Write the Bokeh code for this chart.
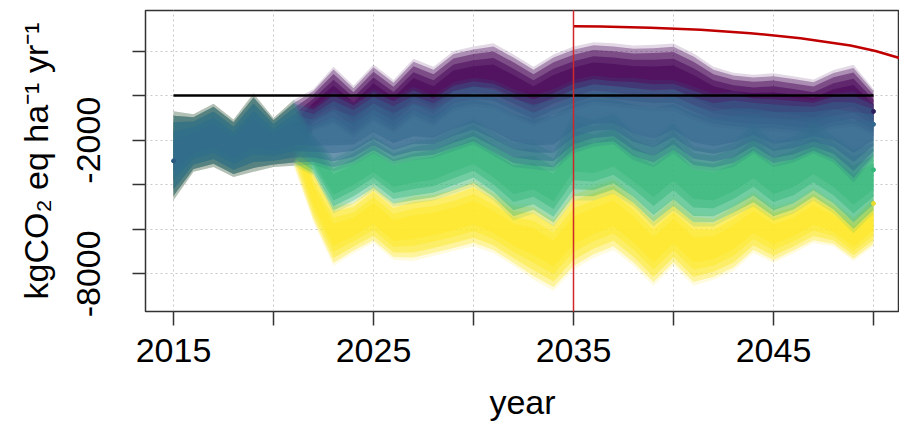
from bokeh.plotting import figure
from bokeh.models import FixedTicker, Range1d, Arrow
from bokeh.embed import file_html
from bokeh.resources import INLINE

# ---------------- data ----------------
hist_years = list(range(2015, 2022))
hist_hi = [-700, -840, -360, -1070, 90, -1000, -200]
hist_lo = [-4700, -3420, -3200, -3650, -3420, -3200, -3150]

proj_years = list(range(2022, 2051))
purple_hi = [300, 1300, 450, 1400, 700, 1650, 1300, 2000, 2200, 2350, 1850, 1300, 1850, 2200, 2400,
             2350, 2250, 2280, 2340, 1900, 1300, 1030, 940, 1000, 870, 720, 1150, 1380, 300]
purple_lo = [-1600, -1300, -1900, -1200, -1700, -1000, -1400, -700, -500, -600, -1000, -1400, -1000, -700, -400,
             -500, -600, -700, -700, -1100, -1400, -1500, -1600, -1600, -1700, -1800, -1500, -1400, -1800]
blue_hi = [-500, 200, -300, 300, -100, 400, 0, 600, 800, 700, 300, 0, 300, 700, 900,
           800, 800, 700, 700, 400, 100, 200, 0, 0, -100, -200, 100, 200, -300]
blue_lo = [-3100, -3400, -3100, -2600, -3100, -2900, -2800, -2500, -2200, -2700, -3200, -3300, -3400, -2600, -2300,
           -2200, -2900, -3200, -2600, -3300, -3400, -3200, -2600, -3200, -3000, -2600, -3000, -3900, -2800]
green_hi = [-1700, -2700, -2250, -1700, -2250, -1950, -1800, -1350, -900, -1500, -1950, -1950, -2400, -650, -900,
            -650, -1500, -1800, -1050, -2100, -2250, -1950, -1050, -1950, -1650, -1050, -1650, -2250, -1950]
green_lo = [-3600, -5290, -4840, -4270, -4980, -4840, -4710, -4400, -4090, -4710, -5600, -5290, -5870, -4710, -4710,
            -4400, -4980, -5870, -5160, -5870, -5870, -5420, -4980, -5600, -5290, -4710, -5290, -6180, -5290]
yellow_hi = [-3300, -4840, -4710, -3960, -4710, -4400, -4310, -4090, -3730, -4270, -4840, -4840, -5420, -4270, -3960,
             -3640, -4400, -5290, -4530, -5290, -5380, -4840, -4270, -4930, -4710, -4090, -4710, -5420, -4530]
yellow_lo = [-5700, -7640, -7070, -6620, -7380, -7420, -7200, -6980, -6760, -7070, -7640, -8270, -8760, -7820, -7290,
             -6930, -7640, -8530, -7640, -8530, -8270, -7870, -7070, -7510, -7070, -6620, -6760, -7420, -6760]

# end markers (small dots)
dot_years = [2015, 2050, 2050, 2050, 2050]
dot_vals = [-2930, -710, -1290, -3330, -4840]
dot_colors = ["#2a5a80", "#2b1f5c", "#31688E", "#35B779", "#e8dc30"]

x_ticks = [2015, 2020, 2025, 2030, 2035, 2040, 2045, 2050]
x_labels = {2015: "2015", 2020: "", 2025: "2025", 2030: "", 2035: "2035", 2040: "", 2045: "2045", 2050: ""}
y_ticks = [-8000, -6000, -4000, -2000, 0, 2000]
y_labels = {-8000: "-8000", -6000: "", -4000: "", -2000: "-2000", 0: "", 2000: ""}

# red annotation (hand-drawn overlay in the reference)
marker_year = 2035
red_curve_year = [2035.0, 2036.35, 2038.85, 2041.35, 2043.85, 2046.35, 2048.85, 2050.1, 2051.3]
red_curve_val = [3111, 3098, 3044, 2956, 2800, 2578, 2245, 2000, 1689]

# scenarios, in drawing order
scenarios = [
    ("#FDE725", yellow_lo, yellow_hi),
    ("#440154", purple_lo, purple_hi),
    ("#35B779", green_lo, green_hi),
    ("#31688E", blue_lo, blue_hi),
]
band_fracs = [1.0, 0.9, 0.75, 0.55, 0.35]
band_alphas = [0.15, 0.35, 0.45, 0.5, 0.5]

FONT = "Liberation Sans"

p = figure(width=899, height=423, output_backend="svg", toolbar_location=None,
           title_location=None,
           x_range=Range1d(2013.6, 2051.3), y_range=Range1d(-9690, 3820),
           min_border_left=145, min_border_right=0, min_border_top=10, min_border_bottom=109)
p.background_fill_color = "white"
p.border_fill_color = "white"
p.outline_line_color = "#333333"
p.outline_line_width = 1.5

years = hist_years + proj_years
for color, lo, hi in scenarios:
    full_lo = hist_lo + lo
    full_hi = hist_hi + hi
    mid = [(a + b) / 2 for a, b in zip(full_lo, full_hi)]
    for f, a in zip(band_fracs, band_alphas):
        y1 = [m - f * (m - l) for m, l in zip(mid, full_lo)]
        y2 = [m + f * (h - m) for m, h in zip(mid, full_hi)]
        p.varea(x=years, y1=y1, y2=y2, fill_color=color, fill_alpha=a)

p.scatter(dot_years, dot_vals, size=4, color=dot_colors)

# zero reference line
p.line([years[0], years[-1]], [0, 0], line_color="black", line_width=2.5)

# red overlay
p.line(red_curve_year, red_curve_val, line_color="#c00000", line_width=2.5)
p.add_layout(Arrow(end=None, x_start=marker_year, x_end=marker_year,
                   y_start=4300, y_end=-12400, line_color="#d02828", line_width=1.5))

# axes
for ax in (p.xaxis[0], p.yaxis[0]):
    ax.axis_line_color = None
    ax.major_tick_in = 0
    ax.major_tick_line_color = "#333333"
    ax.major_tick_line_width = 1.5
    ax.minor_tick_line_color = None
    ax.major_label_text_font = FONT
    ax.major_label_text_font_size = "34px"
    ax.major_label_text_color = "black"
    ax.axis_label_text_font = FONT
    ax.axis_label_text_font_size = "34px"
    ax.axis_label_text_font_style = "normal"
    ax.axis_label_text_color = "black"

p.xaxis.ticker = FixedTicker(ticks=x_ticks)
p.xaxis.major_label_overrides = x_labels
p.xaxis.major_tick_out = 14
p.xaxis.major_label_standoff = 13
p.xaxis.axis_label = "year"
p.xaxis.axis_label_standoff = 18

p.yaxis.ticker = FixedTicker(ticks=y_ticks)
p.yaxis.major_label_overrides = y_labels
p.yaxis.major_tick_out = 13
p.yaxis.major_label_orientation = "vertical"
p.yaxis.major_label_standoff = 32
p.yaxis.axis_label = "kgCO\u2082 eq ha\u207b\u00b9 yr\u207b\u00b9"
p.yaxis.axis_label_standoff = 20

p.xgrid.ticker = FixedTicker(ticks=x_ticks)
p.ygrid.ticker = FixedTicker(ticks=y_ticks)
for g in (p.xgrid[0], p.ygrid[0]):
    g.grid_line_color = "#c8c8c8"
    g.grid_line_dash = "2 3"
    g.grid_line_width = 1

open("out.html", "w").write(file_html(p, INLINE))
